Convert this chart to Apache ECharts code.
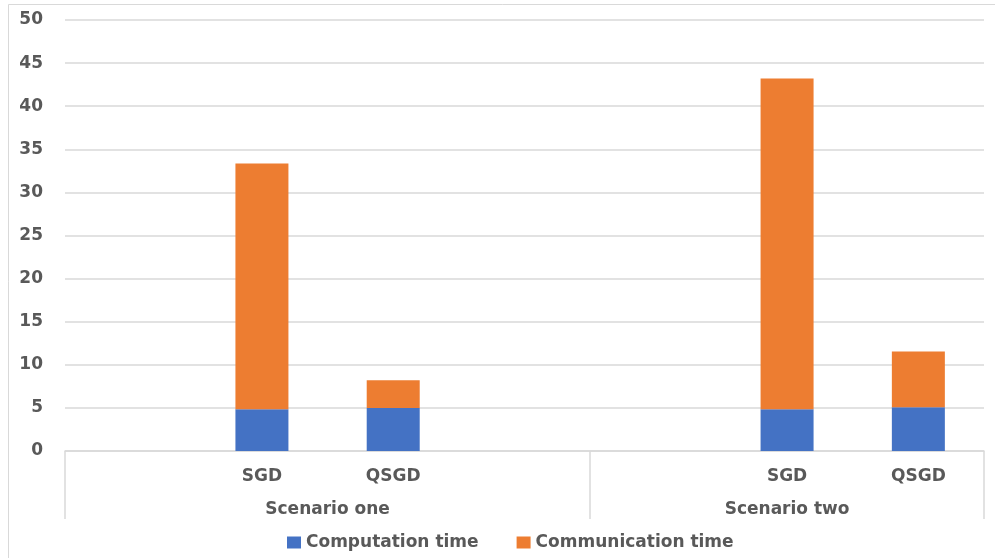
<!DOCTYPE html>
<html>
<head>
<meta charset="utf-8">
<style>
  html, body { margin: 0; padding: 0; background: #fff; }
  #chart { width: 995px; height: 558px; }
</style>
<script src="https://cdn.jsdelivr.net/npm/echarts@6/dist/echarts.min.js"></script>
</head>
<body>
<div id="chart"></div>
<script>
// Slots along the x axis; empty slots pad the two scenario groups
const categories = ['', 'SGD', 'QSGD', '', '', 'SGD', 'QSGD'];
const computationTime = [null, 4.85, 5.0, null, null, 4.85, 5.08];
const communicationTime = [null, 28.5, 3.22, null, null, 38.35, 6.47];
// Scenario groups: label, centre position, boundaries (in slot units)
const groupNames = ['Scenario one', 'Scenario two'];
const groupCentres = [2, 5.5];
const groupBounds = [0, 4, 7];
const yTicks = [0, 5, 10, 15, 20, 25, 30, 35, 40, 45, 50];

const FONT = '"DejaVu Sans", "Open Sans", sans-serif';
const FONT_SIZE = 17;
const TEXT = '#595959';
const LINE = '#d9d9d9';

const chart = echarts.init(document.getElementById('chart'), null, { renderer: 'canvas' });

chart.setOption({
  animation: false,
  backgroundColor: '#fff',
  graphic: [{
    type: 'rect',
    left: 6, top: 2,
    shape: { width: 1000, height: 600 },
    style: { fill: 'none', stroke: LINE, lineWidth: 1 },
    silent: true,
    z: -1
  }],
  grid: { left: 65, right: 11, top: 20, bottom: 107, containLabel: false },
  legend: {
    left: 282, top: 529,
    itemWidth: 14, itemHeight: 12, itemGap: 38,
    icon: 'rect',
    textStyle: { fontFamily: FONT, fontSize: FONT_SIZE, fontWeight: 'bold', color: TEXT }
  },
  xAxis: [{
    type: 'category',
    data: categories,
    position: 'bottom',
    axisLine: { show: true, lineStyle: { color: LINE, width: 1.5 } },
    axisTick: { show: false },
    axisLabel: {
      interval: 0, margin: 17,
      fontFamily: FONT, fontSize: FONT_SIZE, fontWeight: 'bold', color: TEXT
    }
  }, {
    type: 'value',
    min: groupBounds[0],
    max: groupBounds[groupBounds.length - 1],
    position: 'bottom',
    splitLine: { show: false },
    axisLine: { show: false },
    axisTick: {
      show: true, length: 68, customValues: groupBounds,
      lineStyle: { color: LINE, width: 1.5 }
    },
    axisLabel: {
      show: true, margin: 50, customValues: groupCentres,
      formatter: v => groupNames[groupCentres.indexOf(v)] || '',
      fontFamily: FONT, fontSize: FONT_SIZE, fontWeight: 'bold', color: TEXT
    }
  }],
  yAxis: {
    type: 'value',
    min: yTicks[0],
    max: yTicks[yTicks.length - 1],
    interval: yTicks[1] - yTicks[0],
    axisLine: { show: false },
    axisTick: { show: false },
    splitLine: { lineStyle: { color: LINE, width: 1.5 } },
    axisLabel: {
      margin: 22,
      fontFamily: FONT, fontSize: FONT_SIZE, fontWeight: 'bold', color: TEXT
    }
  },
  series: [{
    name: 'Computation time',
    type: 'bar',
    stack: 'time',
    xAxisIndex: 0,
    barWidth: 53,
    data: computationTime,
    itemStyle: { color: '#4472C4' }
  }, {
    name: 'Communication time',
    type: 'bar',
    stack: 'time',
    xAxisIndex: 0,
    barWidth: 53,
    data: communicationTime,
    itemStyle: { color: '#ED7D31' }
  }]
});
</script>
</body>
</html>
